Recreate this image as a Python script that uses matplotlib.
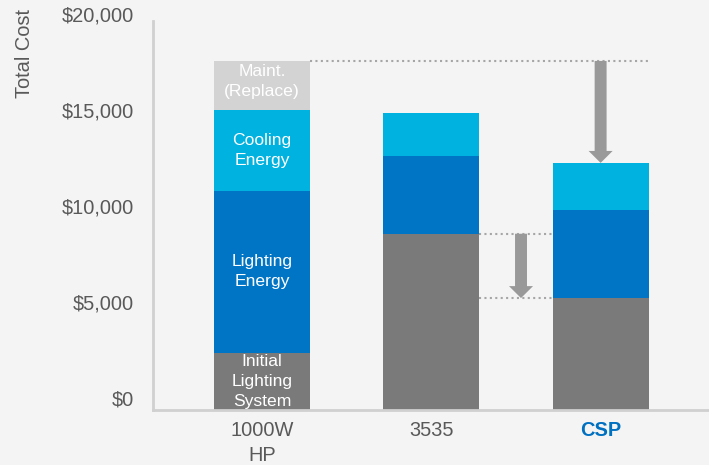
import matplotlib
matplotlib.use("Agg")
import matplotlib.pyplot as plt
import matplotlib.transforms as mtransforms
import numpy as np

plt.rcParams['font.family'] = ['Liberation Sans', 'DejaVu Sans']

# cost stack per fixture, bottom to top
categories = ["1000W\nHP", "3535", "CSP"]
initial_system = [2970, 9180, 5830]
lighting_energy = [8440, 4050, 4590]
cooling_energy = [4220, 2240, 2450]
maintenance = [2550, 0, 0]

segment_names = ["Initial\nLighting\nSystem", "Lighting\nEnergy", "Cooling\nEnergy", "Maint.\n(Replace)"]
segment_colors = ["#7a7a7a", "#0075c6", "#00b2e0", "#d3d3d3"]
yticks = [0, 5000, 10000, 15000, 20000]
ytick_labels = ["$0", "$5,000", "$10,000", "$15,000", "$20,000"]

bg = "#f4f4f4"
text_gray = "#595959"
arrow_gray = "#999999"

fig = plt.figure(figsize=(7.09, 4.65), dpi=100, facecolor=bg)
ax = fig.add_axes([153 / 709, 55 / 465, 1 - 153 / 709, (410 - 21) / 465])
ax.set_facecolor(bg)

x = np.arange(len(categories))
width = 0.566
stacks = [initial_system, lighting_energy, cooling_energy, maintenance]
bottom = np.zeros(len(categories))
for name, vals, col in zip(segment_names, stacks, segment_colors):
    vals = np.array(vals, dtype=float)
    ax.bar(x, vals, width, bottom=bottom, color=col, zorder=2)
    # segment names only on the first bar
    if vals[0] > 0:
        yc = bottom[0] + vals[0] / 2
        if name.startswith("Maint"):
            yc += 200
        ax.text(x[0], yc, name, ha="center", va="center", color="white",
                fontsize=12.6, linespacing=1.42, zorder=3)
    bottom += vals

totals = bottom
ax.set_xlim(-0.643, 2.64)
ax.set_ylim(0, 20260)

# dotted reference lines
dot = dict(color="#a6a6a6", lw=1.5, linestyle=(0, (1, 1.6)), zorder=1)
ax.plot([x[0] + width / 2, x[2] + width / 2], [totals[0]] * 2, **dot)
ax.plot([x[1] + width / 2, x[2] - width / 2], [initial_system[1]] * 2, **dot)
ax.plot([x[1] + width / 2, x[2] - width / 2], [initial_system[2]] * 2, **dot)

# savings arrows
arrow_style = "simple,head_length=8.6,head_width=17.3,tail_width=8.6"
ax.annotate("", xy=(x[2], totals[2]), xytext=(x[2], totals[0]),
            arrowprops=dict(arrowstyle=arrow_style, mutation_scale=1,
                            color=arrow_gray, lw=0, shrinkA=0, shrinkB=0), zorder=4)
xm = (x[1] + x[2]) / 2 + 0.03
ax.annotate("", xy=(xm, initial_system[2]), xytext=(xm, initial_system[1]),
            arrowprops=dict(arrowstyle=arrow_style, mutation_scale=1,
                            color=arrow_gray, lw=0, shrinkA=0, shrinkB=0), zorder=4)

# axes styling
for side in ["top", "right"]:
    ax.spines[side].set_visible(False)
for side in ["left", "bottom"]:
    ax.spines[side].set_color("#d0d0d0")
    ax.spines[side].set_linewidth(2)
    ax.spines[side].set_zorder(5)

ax.set_yticks(yticks)
ax.set_yticklabels(ytick_labels)
ax.tick_params(axis="y", length=0, pad=14, labelsize=14.4, labelcolor=text_gray)
offset = mtransforms.ScaledTranslation(0, 12 / 100, fig.dpi_scale_trans)
for lbl in ax.get_yticklabels():
    lbl.set_transform(lbl.get_transform() + offset)

ax.set_xticks(x)
ax.set_xticklabels(categories, linespacing=1.38)
ax.tick_params(axis="x", length=0, pad=8, labelsize=14.4, labelcolor=text_gray)
csp = ax.get_xticklabels()[2]
csp.set_color("#0070c0")
csp.set_fontweight("bold")

fig.text(25 / 709, 1 - 54 / 465, "Total Cost", rotation=90, ha="center", va="center",
         fontsize=14.4, color=text_gray)

fig.savefig("out.png", dpi=100, facecolor=bg)
